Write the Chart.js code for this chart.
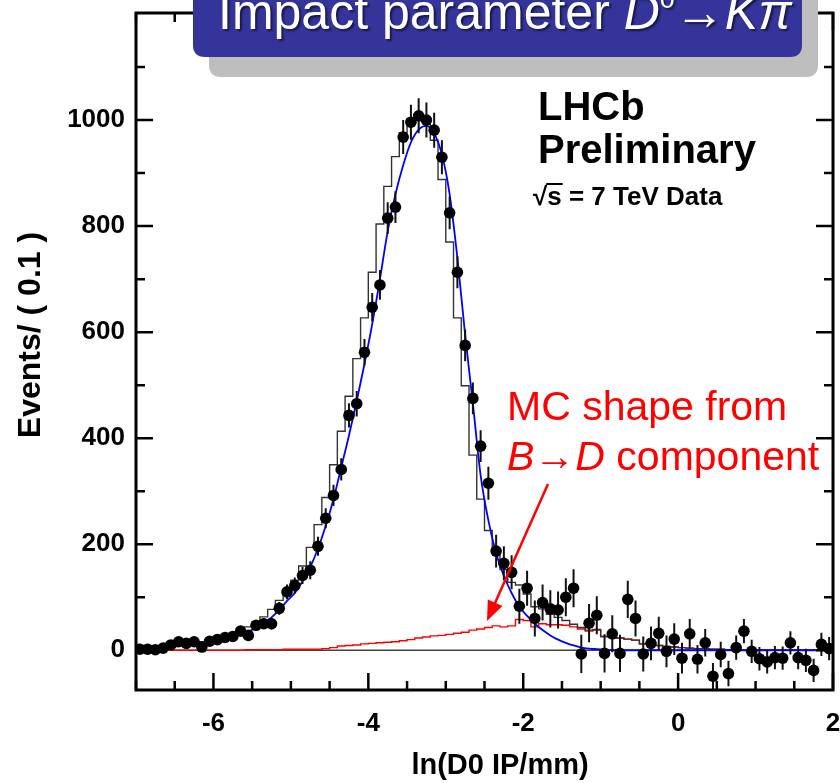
<!DOCTYPE html>
<html><head><meta charset="utf-8">
<script src="https://cdn.jsdelivr.net/npm/chart.js@4.4.0/dist/chart.umd.min.js"></script>
<style>html,body{margin:0;padding:0;background:#fff;}#wrap{width:840px;height:783px;position:relative;}</style>
</head><body><div id="wrap"><canvas id="c" width="840" height="783"></canvas></div>
<script>
// ---- data ----
const binCenters = [
 -6.95,-6.85,-6.75,-6.65,-6.55,-6.45,-6.35,-6.25,-6.15,-6.05,
 -5.95,-5.85,-5.75,-5.65,-5.55,-5.45,-5.35,-5.25,-5.15,-5.05,
 -4.95,-4.85,-4.75,-4.65,-4.55,-4.45,-4.35,-4.25,-4.15,-4.05,
 -3.95,-3.85,-3.75,-3.65,-3.55,-3.45,-3.35,-3.25,-3.15,-3.05,
 -2.95,-2.85,-2.75,-2.65,-2.55,-2.45,-2.35,-2.25,-2.15,-2.05,
 -1.95,-1.85,-1.75,-1.65,-1.55,-1.45,-1.35,-1.25,-1.15,-1.05,
 -0.95,-0.85,-0.75,-0.65,-0.55,-0.45,-0.35,-0.25,-0.15,-0.05,
 0.05,0.15,0.25,0.35,0.45,0.55,0.65,0.75,0.85,0.95,
 1.05,1.15,1.25,1.35,1.45,1.55,1.65,1.75,1.85,1.95];
const binWidth = 0.1;
const dataCounts = [
 2,2,1,4,10,16,13,16,6,17,
 20,24,26,36,28,47,50,50,79,110,
 122,141,151,196,249,292,341,443,465,562,
 647,689,815,836,968,996,1008,1000,981,930,
 825,713,575,475,385,315,187,164,147,83,
 117,60,90,78,76,100,117,-7,51,66,
 -6,31,-6,96,60,-7,13,32,-2,21,
 -15,31,-17,14,-49,-8,-44,5,36,-2,
 -16,-22,-14,-15,14,-14,-19,-38,11,3];
const dataErrors = [
 4,4,4,5,5,6,6,6,6,7,
 7,8,8,9,9,10,10,11,12,14,
 15,16,17,18,19,20,21,23,24,25,
 27,28,30,30,32,33,33,33,33,32,
 31,30,30,30,30,31,31,32,32,33,
 33,34,34,35,35,36,36,36,36,36,
 36,35,35,35,34,33,32,31,30,30,
 29,28,27,26,25,24,24,23,23,22,
 22,22,22,22,22,22,22,22,22,22];
const signalFit = [
 2,3,4,5,7,8,10,12,13,16,
 19,22,25,30,35,43,52,62,76,93,
 108,130,157,192,235,285,345,405,470,540,
 615,700,790,860,915,958,982,989,975,935,
 860,740,595,465,330,245,183,140,108,82,
 65,50,38,28,20,14,9,5,3,2,
 1,0,0,0,0,0,0,0,0,0,
 0,0,0,0,0,0,0,0,0,0,
 0,0,0,0,0,0,0,0,0,0];
const mcShapeBD = [
 0,0,0,0,0,0,0,0,0,0,
 0,0,0,0,0,1,1,1,1,1,
 2,2,2,2,2,3,5,8,9,10,
 12,13,14,15,16,18,20,23,25,27,
 28,30,32,34,38,40,43,46,44,46,
 58,56,44,50,48,48,47,44,40,36,
 38,26,25,23,21,19,12,9,9,7,
 6,5,4,3,3,2,2,1,0,0,
 0,0,0,0,0,0,0,0,0,0];
const totalFit = [
 2,3,4,5,7,8,10,12,13,16,
 19,22,25,30,35,44,53,63,77,94,
 110,132,159,194,237,288,350,413,479,550,
 627,713,804,875,931,976,1002,1012,1000,962,
 888,770,627,499,368,285,226,186,152,128,
 123,106,82,78,68,62,56,49,43,38,
 39,26,25,23,21,19,12,9,9,7,
 6,5,4,3,3,2,2,1,0,0,
 0,0,0,0,0,0,0,0,0,0];
const xTicks = [-7,-6.5,-6,-5.5,-5,-4.5,-4,-3.5,-3,-2.5,-2,-1.5,-1,-0.5,0,0.5,1,1.5,2];
const xLabelTicks = [-6,-4,-2,0,2];
const yTicks = [0,100,200,300,400,500,600,700,800,900,1000,1100];
const yLabelTicks = [0,200,400,600,800,1000];

// ---- build library data ----
const pts = binCenters.map((x,i)=>({x, y: dataCounts[i]}));
const errs = [];
binCenters.forEach((x,i)=>{ errs.push({x, y: dataCounts[i]-dataErrors[i]}, {x, y: dataCounts[i]+dataErrors[i]}, {x, y: null}); });
const curve = binCenters.map((x,i)=>({x, y: signalFit[i]}));
function stepData(vals){
  const d = binCenters.map((x,i)=>({x: x - binWidth/2, y: vals[i]}));
  d.push({x: binCenters[binCenters.length-1] + binWidth/2, y: vals[vals.length-1]});
  return d;
}
const FONT = '"Liberation Sans", Arial, Helvetica, sans-serif';

const rootPlugin = {
  id: 'rootStyle',
  afterDraw(chart){
    const {ctx, chartArea:a, scales:{x, y}} = chart;
    ctx.save();
    // frame
    ctx.strokeStyle = '#000'; ctx.lineWidth = 3;
    ctx.strokeRect(a.left, a.top, a.right - a.left, a.bottom - a.top);
    // inward ticks
    ctx.lineWidth = 2.5;
    ctx.beginPath();
    xTicks.forEach(v=>{
      const px = x.getPixelForValue(v);
      const L = xLabelTicks.includes(v) ? 17 : 9;
      ctx.moveTo(px, a.bottom); ctx.lineTo(px, a.bottom - L);
      ctx.moveTo(px, a.top); ctx.lineTo(px, a.top + L);
    });
    yTicks.forEach(v=>{
      const py = y.getPixelForValue(v);
      const L = yLabelTicks.includes(v) ? 17 : 9;
      ctx.moveTo(a.left, py); ctx.lineTo(a.left + L, py);
      ctx.moveTo(a.right, py); ctx.lineTo(a.right - L, py);
    });
    ctx.stroke();

    // axis titles
    ctx.fillStyle = '#000';
    ctx.textAlign = 'center'; ctx.textBaseline = 'alphabetic';
    ctx.font = 'bold 29px ' + FONT;
    ctx.fillText('ln(D0 IP/mm)', 500, 774);
    ctx.save();
    ctx.font = 'bold 32px ' + FONT;
    ctx.translate(40, 335); ctx.rotate(-Math.PI/2);
    ctx.fillText('Events/ ( 0.1 )', 0, 0);
    ctx.restore();

    // LHCb labels
    ctx.textAlign = 'left';
    ctx.font = 'bold 40px ' + FONT;
    ctx.fillText('LHCb', 538, 120);
    ctx.fillText('Preliminary', 538, 163);
    ctx.font = 'bold 26px ' + FONT;
    let x0 = 533, b = 205;
    ctx.fillText('\u221A', x0, b);
    const w1 = ctx.measureText('\u221A').width;
    ctx.fillText('s = 7 TeV Data', x0 + w1, b);
    const ws = ctx.measureText('s').width;
    ctx.fillRect(x0 + w1 - 1, b - 22, ws + 2, 2);

    // red annotation
    ctx.fillStyle = '#ff0000';
    ctx.font = '41px ' + FONT;
    ctx.fillText('MC shape from', 507, 420);
    let xx = 507; const b2 = 470;
    const seg = (t, f) => { ctx.font = f; ctx.fillText(t, xx, b2); xx += ctx.measureText(t).width; };
    seg('B', 'italic 41px ' + FONT);
    seg('\u2192', '41px ' + FONT);
    seg('D', 'italic 41px ' + FONT);
    seg(' component', '41px ' + FONT);
    // arrow
    const sx = 548, sy = 484, ex = 487, ey = 621;
    const ang = Math.atan2(ey - sy, ex - sx);
    ctx.strokeStyle = '#ff0000'; ctx.lineWidth = 2.5;
    ctx.beginPath(); ctx.moveTo(sx, sy);
    ctx.lineTo(ex - 14*Math.cos(ang), ey - 14*Math.sin(ang)); ctx.stroke();
    ctx.beginPath();
    ctx.moveTo(ex, ey);
    ctx.lineTo(ex - 20*Math.cos(ang) + 8*Math.sin(ang), ey - 20*Math.sin(ang) - 8*Math.cos(ang));
    ctx.lineTo(ex - 20*Math.cos(ang) - 8*Math.sin(ang), ey - 20*Math.sin(ang) + 8*Math.cos(ang));
    ctx.closePath(); ctx.fillStyle = '#ff0000'; ctx.fill();

    // title box
    const rr = (x, y, w, h, r) => { ctx.beginPath(); ctx.moveTo(x+r, y); ctx.lineTo(x+w-r, y); ctx.quadraticCurveTo(x+w, y, x+w, y+r); ctx.lineTo(x+w, y+h-r); ctx.quadraticCurveTo(x+w, y+h, x+w-r, y+h); ctx.lineTo(x+r, y+h); ctx.quadraticCurveTo(x, y+h, x, y+h-r); ctx.lineTo(x, y+r); ctx.quadraticCurveTo(x, y, x+r, y); ctx.closePath(); };
    ctx.fillStyle = '#bebebe'; rr(209, -30, 609, 107, 12); ctx.fill();
    ctx.fillStyle = '#34349a'; rr(193, -30, 609, 87, 12); ctx.fill();
    ctx.fillStyle = '#fff';
    ctx.shadowColor = 'rgba(0,0,0,0.55)'; ctx.shadowOffsetX = 2; ctx.shadowOffsetY = 2; ctx.shadowBlur = 2;
    xx = 218; const b3 = 29;
    const seg2 = (t, f, dy) => { ctx.font = f; ctx.fillText(t, xx, b3 + (dy||0)); xx += ctx.measureText(t).width; };
    seg2('Impact parameter ', '50px ' + FONT);
    seg2('D', 'italic 50px ' + FONT);
    seg2('0', '27px ' + FONT, -21);
    seg2('\u2192', '50px ' + FONT);
    seg2('K', 'italic 50px ' + FONT);
    seg2('\u03C0', 'italic 50px ' + FONT);
    ctx.restore();
  }
};

const noPad = s => { s.paddingTop = 0; s.paddingBottom = 0; s.paddingLeft = 0; s.paddingRight = 0; };

new Chart(document.getElementById('c'), {
  type: 'scatter',
  data: {
    datasets: [
      { label: 'data', data: pts, showLine: false, pointRadius: 5.8, pointHoverRadius: 5.8,
        backgroundColor: '#000', borderWidth: 0, order: 0 },
      { label: 'errors', data: errs, showLine: true, spanGaps: false, pointRadius: 0,
        borderColor: '#111', borderWidth: 2, order: 1 },
      { label: 'signal fit', data: curve, showLine: true, pointRadius: 0, borderColor: '#0000ff',
        borderWidth: 1.8, cubicInterpolationMode: 'monotone', order: 2 },
      { label: 'total fit', data: stepData(totalFit), showLine: true, pointRadius: 0, stepped: 'after',
        borderColor: '#333', borderWidth: 1.4, order: 3 },
      { label: 'B->D MC', data: stepData(mcShapeBD), showLine: true, pointRadius: 0, stepped: 'after',
        borderColor: '#ff0000', borderWidth: 1.4, order: 4 },
      { label: 'zero', data: [{x: xTicks[0], y: 0}, {x: xTicks[xTicks.length-1], y: 0}], showLine: true,
        pointRadius: 0, borderColor: '#444', borderWidth: 1.5, order: 5 }
    ]
  },
  options: {
    responsive: false, animation: false, devicePixelRatio: 1,
    layout: { padding: { top: 13, right: 7, left: 0, bottom: 0 } },
    plugins: { legend: { display: false }, tooltip: { enabled: false } },
    scales: {
      x: { type: 'linear', min: -7, max: 2,
        afterFit: s => { s.height = 93; noPad(s); },
        afterBuildTicks: s => { s.ticks = xTicks.map(v => ({value: v})); },
        grid: { display: false }, border: { display: false },
        ticks: { autoSkip: false, maxRotation: 0, padding: 10, color: '#000',
          font: { family: FONT, weight: 'bold', size: 26 },
          callback: v => xLabelTicks.includes(v) ? String(v) : '' } },
      y: { type: 'linear', min: -75, max: 1202,
        afterFit: s => { s.width = 136; noPad(s); },
        afterBuildTicks: s => { s.ticks = yTicks.map(v => ({value: v})); },
        grid: { display: false }, border: { display: false },
        ticks: { autoSkip: false, padding: 3, color: '#000',
          font: { family: FONT, weight: 'bold', size: 26 },
          callback: v => yLabelTicks.includes(v) ? String(v) : '' } }
    }
  },
  plugins: [rootPlugin]
});
</script></body></html>
